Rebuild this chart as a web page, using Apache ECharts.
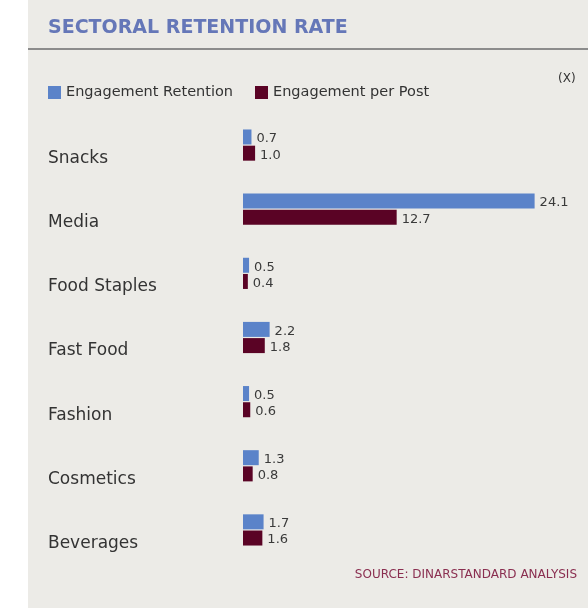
<!DOCTYPE html>
<html>
<head>
<meta charset="utf-8">
<style>
  html, body { margin: 0; padding: 0; background: #ffffff; }
  #chart { width: 588px; height: 608px; }
</style>
<script src="https://cdn.jsdelivr.net/npm/echarts@6/dist/echarts.min.js"></script>
</head>
<body>
<div id="chart"></div>
<script>
// Sectors, top to bottom
const sectors = ['Snacks', 'Media', 'Food Staples', 'Fast Food', 'Fashion', 'Cosmetics', 'Beverages'];
// Multiples (x) per sector
const engagementRetention = [0.7, 24.1, 0.5, 2.2, 0.5, 1.3, 1.7];
const engagementPerPost = [1.0, 12.7, 0.4, 1.8, 0.6, 0.8, 1.6];
const seriesNames = ['Engagement Retention', 'Engagement per Post'];

const BLUE = '#5b83c9';
const MAROON = '#5a0325';
const FONT = '"DejaVu Sans"';

const chart = echarts.init(document.getElementById('chart'), null, { renderer: 'canvas' });

const valueLabel = {
  show: true, position: 'right', distance: 5, offset: [0, 2],
  formatter: p => p.value.toFixed(1),
  fontFamily: FONT, fontSize: 13, color: '#3a3a3a'
};

chart.setOption({
  backgroundColor: '#ffffff',
  animation: false,
  graphic: [
    { type: 'rect', z: -10, shape: { x: 28, y: 0, width: 560, height: 608 }, style: { fill: '#ecebe7' } },
    { type: 'rect', z: -9, shape: { x: 28, y: 48, width: 560, height: 2 }, style: { fill: '#8c8c8c' } },
    { type: 'text', left: 558, top: 73, style: { text: '(X)', font: '12px ' + FONT, fill: '#333333' } },
    { type: 'text', right: 11, top: 569, style: { text: 'SOURCE: DINARSTANDARD ANALYSIS', font: '12px ' + FONT, fill: '#8a2e50' } }
  ],
  title: {
    text: 'SECTORAL RETENTION RATE',
    left: 48, top: 19, padding: 0,
    textStyle: { fontFamily: FONT, fontWeight: 'bold', fontSize: 19, color: '#6577b8' }
  },
  legend: {
    left: 48, top: 85, padding: 0,
    itemWidth: 13, itemHeight: 13, itemGap: 22,
    icon: 'rect',
    textStyle: { fontFamily: FONT, fontSize: 14.5, color: '#333333' },
    data: seriesNames
  },
  grid: { left: 243, right: 42.5, top: 113, bottom: 46, containLabel: false },
  xAxis: {
    type: 'value', min: 0, max: 25,
    show: false
  },
  yAxis: {
    type: 'category', data: sectors, inverse: true,
    axisLine: { show: false }, axisTick: { show: false },
    axisLabel: {
      align: 'left', margin: 195,
      verticalAlign: 'top', lineHeight: 27,
      fontFamily: FONT, fontSize: 17, color: '#333333'
    }
  },
  series: [
    {
      name: seriesNames[0], type: 'bar', data: engagementRetention,
      barWidth: 15, barGap: '8%',
      itemStyle: { color: BLUE },
      label: valueLabel
    },
    {
      name: seriesNames[1], type: 'bar', data: engagementPerPost,
      barWidth: 15,
      itemStyle: { color: MAROON },
      label: valueLabel
    }
  ]
});
</script>
</body>
</html>
